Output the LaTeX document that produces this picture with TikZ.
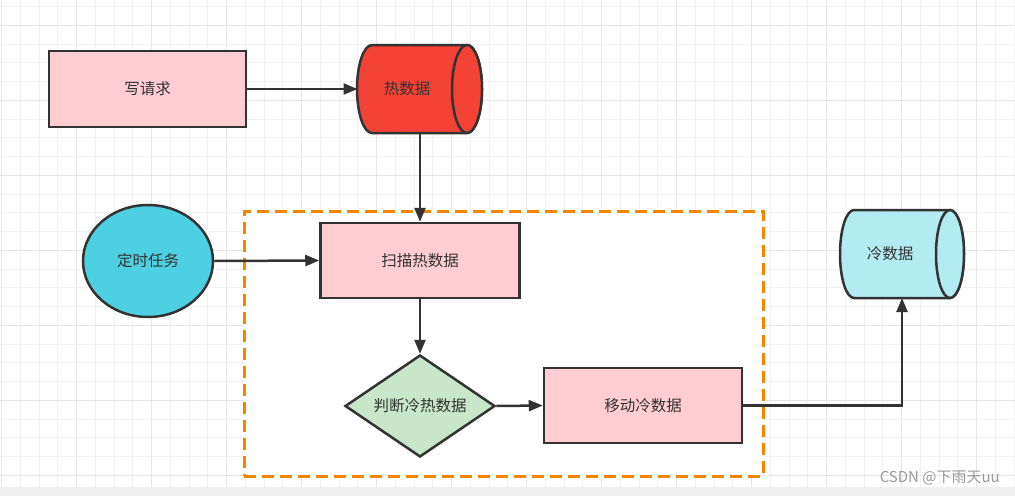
\documentclass[tikz,border=0pt]{standalone}
\usepackage{fontspec}
\newfontfamily\cjk{Noto Sans CJK SC}
\usetikzlibrary{shapes.geometric,arrows.meta}
\definecolor{strk}{HTML}{333333}
\definecolor{pinkf}{HTML}{FFCDD2}
\definecolor{hotf}{HTML}{F44336}
\definecolor{timerf}{HTML}{4DD0E1}
\definecolor{coldf}{HTML}{B2EBF2}
\definecolor{decf}{HTML}{C8E6C9}
\definecolor{grporange}{HTML}{F58400}
\definecolor{gridminor}{HTML}{F2F2F2}
\definecolor{gridmajor}{HTML}{E6E6E6}
\definecolor{barf}{HTML}{F0F0F0}
\definecolor{wm}{HTML}{9A9A9A}
\tikzset{
  txt/.style={font=\cjk\fontsize{15.5}{18}\selectfont, text=strk},
  box/.style={txt, draw=strk, line width=2.5pt, fill=pinkf, rectangle, inner sep=0pt},
  cylbody/.style={draw=strk, line width=2.5pt},
  shapebox/.style={rectangle, inner sep=0pt, outer sep=0pt},
  conn/.style={draw=strk, line width=2.5pt, -{Triangle[length=14pt,width=11pt]}},
  group/.style={draw=grporange, fill=white, line width=3pt, dash pattern=on 12pt off 6pt, rectangle, inner sep=0pt}
}
\begin{document}
\begin{tikzpicture}[x=1pt,y=-1pt]
\useasboundingbox (0,0) rectangle (1015,496);
\fill[white] (0,0) rectangle (1015,496);
% grid
\foreach \i in {0,...,54} {
  \pgfmathtruncatemacro{\m}{mod(\i,4)}
  \ifnum\m=0
    \draw[gridmajor, line width=1pt] ({1.7+18.75*\i},0) -- ({1.7+18.75*\i},487);
  \else
    \draw[gridminor, line width=1pt] ({1.7+18.75*\i},0) -- ({1.7+18.75*\i},487);
  \fi
}
\foreach \j in {0,...,26} {
  \pgfmathtruncatemacro{\m}{mod(\j+3,4)}
  \ifnum\m=0
    \draw[gridmajor, line width=1pt] (0,{6.5+18.75*\j}) -- (1015,{6.5+18.75*\j});
  \else
    \draw[gridminor, line width=1pt] (0,{6.5+18.75*\j}) -- (1015,{6.5+18.75*\j});
  \fi
}
\fill[barf] (0,487) rectangle (1015,496);

% group container
\node[group, minimum width=519pt, minimum height=265pt] (grp) at (503.5,343.5) {};

% nodes
\node[box, minimum width=197pt, minimum height=76pt] (req) at (147.5,89) {写请求};
\node[box, minimum width=199pt, minimum height=75pt] (scan) at (420,260.5) {扫描热数据};
\node[box, minimum width=198pt, minimum height=75pt] (move) at (643,405.5) {移动冷数据};
\node[txt, ellipse, draw=strk, line width=2.5pt, fill=timerf, minimum width=130pt, minimum height=112pt, inner sep=0pt] (timer) at (148,261) {定时任务};
\node[txt, diamond, draw=strk, line width=2.5pt, fill=decf, minimum width=150pt, minimum height=102pt, inner sep=0pt, aspect=1.47] (dec) at (420,406) {判断冷热数据};

% hot data cylinder
\node[shapebox, minimum width=125pt, minimum height=88pt] (hot) at (420,89) {};
\draw[cylbody, fill=hotf] (372,45) -- (467,45)
  arc[start angle=-90, end angle=90, x radius=15, y radius=44] -- (372,133)
  arc[start angle=90, end angle=270, x radius=15, y radius=44] -- cycle;
\draw[cylbody, fill=hotf] (467,89) ellipse[x radius=15, y radius=44];
\node[txt] (hotlabel) at (407,89) {热数据};

% cold data cylinder
\node[shapebox, minimum width=124pt, minimum height=88pt] (cold) at (902,254) {};
\draw[cylbody, fill=coldf] (854,210) -- (950,210)
  arc[start angle=-90, end angle=90, x radius=14, y radius=44] -- (854,298)
  arc[start angle=90, end angle=270, x radius=14, y radius=44] -- cycle;
\draw[cylbody, fill=coldf] (950,254) ellipse[x radius=14, y radius=44];
\node[txt] (coldlabel) at (890,254) {冷数据};

% connectors
\draw[conn] (req.east) -- (hot.west);
\draw[conn] (hot.south) -- (scan.north);
\draw[conn] (timer.east) -- (scan.west);
\draw[conn] (scan.south) -- (dec.north);
\draw[conn] (dec.east) -- (move.west);
\draw[conn] (move.east) -| (cold.south);

% watermark
\node[font=\cjk\fontsize{15}{18}\selectfont, text=wm, anchor=east, inner sep=0pt] (wmark) at (1000,478) {CSDN @下雨天uu};
\end{tikzpicture}
\end{document}
